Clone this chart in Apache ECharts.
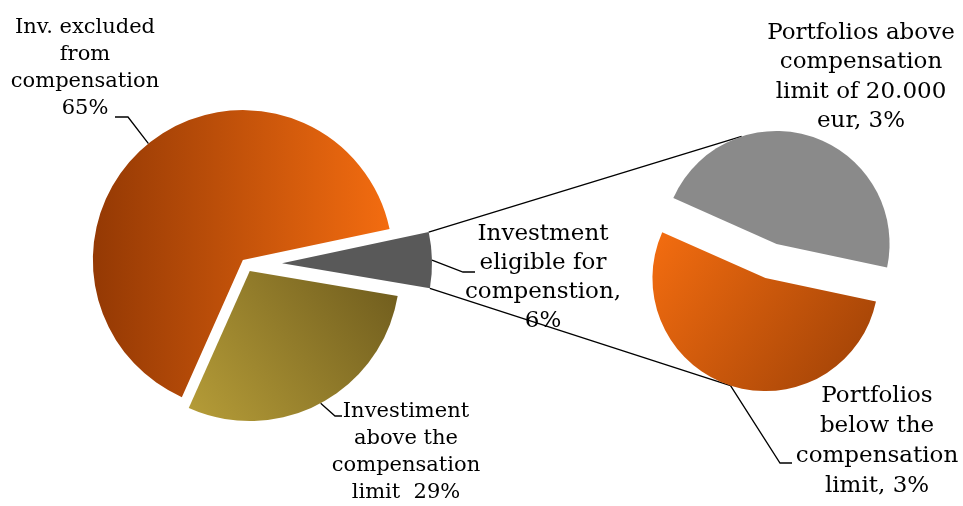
<!DOCTYPE html>
<html>
<head>
<meta charset="utf-8">
<script src="https://cdn.jsdelivr.net/npm/echarts@6/dist/echarts.min.js"></script>
<style>
html,body{margin:0;padding:0;background:#fff;}
#chart{width:963px;height:506px;}
</style>
</head>
<body>
<div id="chart"></div>
<script>
// ---- Data ----
const mainNames = ['Inv. excluded\nfrom\ncompensation', 'Investment\neligible for\ncompenstion,', 'Investiment\nabove the\ncompensation\nlimit '];
const mainValues = [65, 6, 29];
const mainSeparators = ['\n', '\n', ' '];
const subNames = ['Portfolios above\ncompensation\nlimit of 20.000\neur,', 'Portfolios\nbelow the\ncompensation\nlimit,'];
const subValues = [2.8, 3.2];
const subSeparators = [' ', ' '];

// ---- Layout & style ----
const LEFT = {cx: 246, cy: 264, r: 150, start: 246};
const RIGHT = {cx: 771, cy: 261, r: 113, start: 156};
const mainExplode = [5, 36, 8];
const subExplode = 18;
const G = echarts.graphic.LinearGradient;
const mainColors = [
  new G(0, 0, 1, 0, [{offset: 0, color: '#943904'}, {offset: 1, color: '#f36c10'}]),
  '#595959',
  new G(0, 1, 1, 0, [{offset: 0, color: '#b69d38'}, {offset: 1, color: '#6e5b1d'}])
];
const subColors = [
  '#8a8a8a',
  new G(0, 0, 1, 1, [{offset: 0, color: '#f46d10'}, {offset: 1, color: '#9c4006'}])
];
const SMALL = '21px "DejaVu Serif"';
const BIG = '23px "DejaVu Serif"';
const LINE_W = 1.3;
const mainLabelPos = [[85, 68, SMALL, 27], [543, 278, BIG, 29], [406, 452, SMALL, 27]];
const subLabelPos = [[861, 77, BIG, 29.5], [877, 441, BIG, 30]];
const mainElbows = [[[128, 117], [115, 117]], [[463, 272], [475, 272]], [[335, 416], [342, 416]]];
const subElbows = [null, [[780, 463], [792, 463]]];
const connectorAngles = [108, 252];

function angles(values, start) {
  const total = values.reduce((a, b) => a + b, 0);
  let a = start;
  return values.map(v => {
    const a0 = a, a1 = a - v / total * 360;
    a = a1;
    return {a0, a1, mid: (a0 + a1) / 2};
  });
}
function pt(cx, cy, r, deg) {
  const t = deg * Math.PI / 180;
  return [cx + r * Math.cos(t), cy - r * Math.sin(t)];
}
function fmt(v) { return Math.round(v) + '%'; }

const series = [];
mainValues.forEach((_, i) => {
  series.push({
    type: 'pie', center: [LEFT.cx, LEFT.cy], radius: [0, LEFT.r], startAngle: LEFT.start, clockwise: true,
    selectedMode: 'multiple', selectedOffset: mainExplode[i], silent: true, animation: false,
    label: {show: false}, labelLine: {show: false}, emphasis: {disabled: true},
    data: mainValues.map((v, j) => ({value: v, name: mainNames[j], selected: j === i,
      itemStyle: {color: j === i ? mainColors[j] : 'rgba(0,0,0,0)', borderWidth: 0}}))
  });
});
series.push({
  type: 'pie', center: [RIGHT.cx, RIGHT.cy], radius: [0, RIGHT.r], startAngle: RIGHT.start, clockwise: true,
  selectedMode: 'multiple', selectedOffset: subExplode, silent: true, animation: false,
  label: {show: false}, labelLine: {show: false}, emphasis: {disabled: true},
  data: subValues.map((v, j) => ({value: v, name: subNames[j], selected: true,
    itemStyle: {color: subColors[j], borderWidth: 0}}))
});

const graphics = [];
const mA = angles(mainValues, LEFT.start);
const sA = angles(subValues, RIGHT.start);
function sliceCenter(P, ang, off) { return pt(P.cx, P.cy, off, ang.mid); }

// labels + leaders for main pie
mainValues.forEach((v, i) => {
  const c = sliceCenter(LEFT, mA[i], mainExplode[i]);
  const edge = pt(c[0], c[1], LEFT.r, mA[i].mid);
  const p = mainLabelPos[i];
  graphics.push({type: 'polyline', silent: true, shape: {points: [edge].concat(mainElbows[i])},
    style: {stroke: '#000', lineWidth: LINE_W, fill: null}});
  graphics.push({type: 'text', silent: true, x: p[0], y: p[1], style: {text: mainNames[i] + mainSeparators[i] + fmt(v),
    font: p[2], lineHeight: p[3], fill: '#000', align: 'center', verticalAlign: 'middle'}});
});
subValues.forEach((v, i) => {
  const c = sliceCenter(RIGHT, sA[i], subExplode);
  const p = subLabelPos[i];
  if (subElbows[i]) {
    const edge = pt(c[0], c[1], RIGHT.r, sA[i].mid);
    graphics.push({type: 'polyline', silent: true, shape: {points: [edge].concat(subElbows[i])},
      style: {stroke: '#000', lineWidth: LINE_W, fill: null}});
  }
  graphics.push({type: 'text', silent: true, x: p[0], y: p[1], style: {text: subNames[i] + subSeparators[i] + fmt(v),
    font: p[2], lineHeight: p[3], fill: '#000', align: 'center', verticalAlign: 'middle'}});
});
// connector lines from the "eligible" slice to the second pie
const gi = 1;
const gc = sliceCenter(LEFT, mA[gi], mainExplode[gi]);
const gTop = pt(gc[0], gc[1], LEFT.r, mA[gi].a0);
const gBot = pt(gc[0], gc[1], LEFT.r, mA[gi].a1);
const rTopC = sliceCenter(RIGHT, sA[0], subExplode);
const rBotC = sliceCenter(RIGHT, sA[1], subExplode);
const rTop = pt(rTopC[0], rTopC[1], RIGHT.r, connectorAngles[0]);
const rBot = pt(rBotC[0], rBotC[1], RIGHT.r, connectorAngles[1]);
graphics.push({type: 'line', silent: true, shape: {x1: gTop[0], y1: gTop[1], x2: rTop[0], y2: rTop[1]}, style: {stroke: '#000', lineWidth: LINE_W}});
graphics.push({type: 'line', silent: true, shape: {x1: gBot[0], y1: gBot[1], x2: rBot[0], y2: rBot[1]}, style: {stroke: '#000', lineWidth: LINE_W}});

const chart = echarts.init(document.getElementById('chart'), null, {renderer: 'canvas'});
chart.setOption({animation: false, backgroundColor: '#fff', series: series, graphic: {elements: graphics}});
</script>
</body>
</html>
